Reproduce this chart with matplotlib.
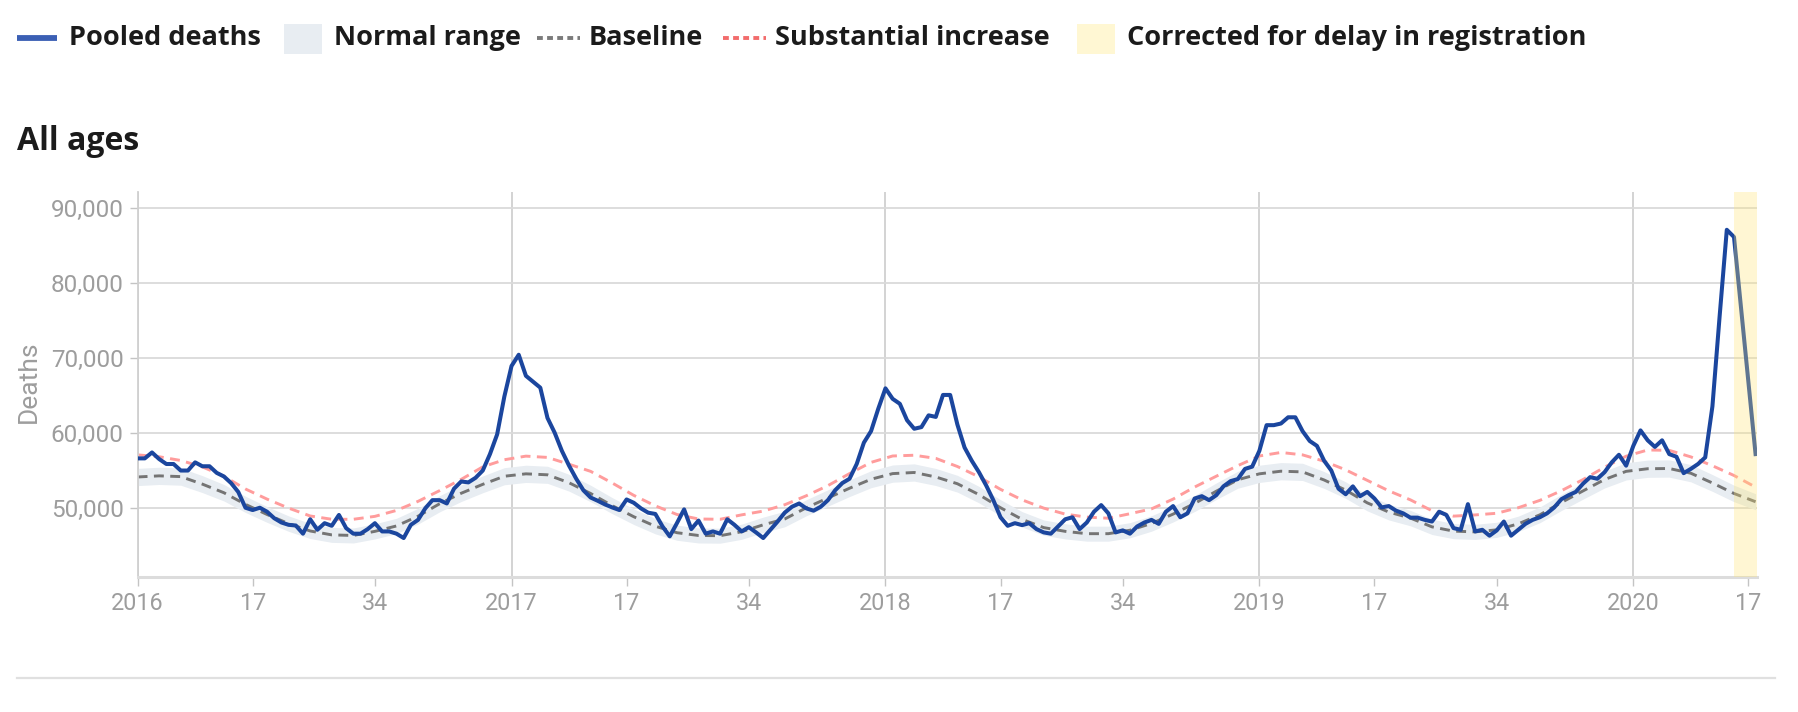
import matplotlib
matplotlib.use("Agg")
import matplotlib.pyplot as plt
from matplotlib.lines import Line2D
from matplotlib.patches import Rectangle
from matplotlib.ticker import FuncFormatter
import numpy as np

# ---------------- data ----------------
years = [2016, 2017, 2018, 2019, 2020]
weeks_per_year = [52, 52, 52, 52]          # ISO weeks 2016-2019
week_tick_labels = [17, 34]

deaths_2016 = [56580, 56580, 57370, 56490, 55830, 55830, 54960, 54960, 56050, 55530,
               55530, 54650, 54170, 53290, 52100, 50000, 49690, 50000, 49470, 48600,
               48030, 47720, 47630, 46540, 48460, 47060, 47940, 47590, 49040, 47280,
               46540, 46540, 47150, 47940, 46840, 46840, 46540, 45960, 47720, 48380,
               49910, 51010, 51010, 50570, 52540, 53500, 53380, 53990, 54960, 57150,
               59780, 64820]
deaths_2017 = [68900, 70400, 67590, 66800, 66010, 61970, 60000, 57590, 55610, 53860,
               52320, 51360, 50920, 50440, 50040, 49690, 51100, 50660, 49910, 49340,
               49170, 47500, 46180, 47940, 49780, 47150, 48290, 46540, 46840, 46540,
               48460, 47720, 46840, 47410, 46710, 45960, 47060, 48160, 49350, 50130,
               50570, 49910, 49610, 50130, 51010, 52320, 53290, 53860, 55830, 58680,
               60220, 63200]
deaths_2018 = [65920, 64520, 63860, 61670, 60530, 60750, 62320, 62110, 65040, 65040,
               61100, 58030, 56270, 54740, 52980, 51010, 48730, 47590, 47940, 47680,
               47940, 47150, 46710, 46540, 47500, 48460, 48730, 47150, 48030, 49470,
               50350, 49250, 46710, 46980, 46540, 47500, 48030, 48380, 47850, 49470,
               50220, 48730, 49250, 51230, 51540, 51010, 51670, 52850, 53550, 53820,
               55180, 55480]
deaths_2019 = [57590, 61010, 61010, 61230, 62060, 62060, 60220, 58900, 58250, 56270,
               54960, 52540, 51800, 52850, 51540, 52110, 51230, 50040, 50220, 49610,
               49250, 48680, 48680, 48380, 48160, 49470, 49040, 47280, 47060, 50480,
               46840, 47060, 46270, 46970, 48160, 46270, 47060, 47850, 48380, 48730,
               49250, 50040, 51140, 51670, 52110, 53200, 54080, 53860, 54740, 56050,
               57060, 55610]
deaths_2020 = [58250, 60310, 58990, 58110, 58990, 57150, 56800, 54610, 55180, 55830,
               56710, 63510, 75500, 87060, 86100, 76450, 66800, 57150]
corrected_from_week_2020 = 15

curve_week_step = 3   # baseline / thresholds read every 3rd week from 2016-W01
baseline = [54100, 54250, 54150, 53150, 52000, 50450, 49100, 47880, 46900, 46380,
            46300, 46850, 47570, 48870, 50530, 51930, 53120, 54200, 54520, 54390,
            53330, 51900, 50280, 48800, 47530, 46670, 46300, 46270, 46800, 47720,
            48500, 50000, 51300, 52600, 53800, 54550, 54700, 54100, 53200, 51750,
            50000, 48450, 47350, 46850, 46540, 46540, 47000, 47900, 49150, 50570,
            52200, 53730, 54520, 54870, 54780, 53700, 52350, 50650, 49420, 48620,
            47450, 46880, 46780, 47050, 47850, 49050, 50700, 52240, 53760, 54850,
            55200, 55230, 54600, 53300, 51900, 50800]
normal_low = [52950, 53100, 53000, 52020, 50900, 49370, 48050, 46850, 45890, 45380,
              45300, 45840, 46550, 47820, 49450, 50830, 52000, 53060, 53370, 53250,
              52210, 50800, 49210, 47760, 46510, 45660, 45300, 45270, 45790, 46690,
              47460, 48930, 50210, 51490, 52670, 53400, 53550, 52960, 52080, 50650,
              48930, 47420, 46330, 45840, 45540, 45540, 45990, 46870, 48100, 49500,
              51100, 52600, 53370, 53720, 53630, 52580, 51250, 49580, 48370, 47590,
              46430, 45870, 45770, 46040, 46820, 48000, 49630, 51140, 52630, 53700,
              54050, 54080, 53450, 52180, 50800, 49730]
normal_high = [55250, 55400, 55300, 54280, 53100, 51530, 50150, 48910, 47910, 47380,
               47300, 47860, 48590, 49920, 51610, 53030, 54240, 55340, 55670, 55530,
               54450, 53000, 51350, 49840, 48550, 47680, 47300, 47270, 47810, 48750,
               49540, 51070, 52390, 53710, 54930, 55700, 55850, 55240, 54320, 52850,
               51070, 49480, 48370, 47860, 47540, 47540, 48010, 48930, 50200, 51640,
               53300, 54860, 55670, 56020, 55930, 54820, 53450, 51720, 50470, 49650,
               48470, 47890, 47790, 48060, 48880, 50100, 51770, 53340, 54890, 56000,
               56350, 56380, 55750, 54420, 53000, 51870]
substantial_increase = [57050, 56800, 56300, 55450, 54200, 52500, 51150, 49950, 48900, 48460,
                        48460, 48850, 49640, 50850, 52280, 53780, 55450, 56400, 56880, 56710,
                        55800, 54850, 53300, 51650, 50250, 49100, 48500, 48460, 49050, 49550,
                        50400, 51600, 52950, 54550, 56050, 56900, 57000, 56580, 55500, 54120,
                        52450, 51050, 49950, 49150, 48750, 48600, 49200, 49850, 51150, 52760,
                        54200, 55610, 56900, 57370, 57050, 56200, 55050, 53650, 52250, 51050,
                        49600, 48880, 49040, 49260, 50000, 50980, 52270, 53750, 55400, 56870,
                        57700, 57650, 56780, 55600, 54300, 52750]

# ---------------- derived positions ----------------
pooled = np.array(deaths_2016 + deaths_2017 + deaths_2018 + deaths_2019 + deaths_2020)
x = np.arange(len(pooled))
year_start = np.concatenate([[0], np.cumsum(weeks_per_year)])
curve_x = np.arange(0, len(pooled), curve_week_step)
corrected_start = year_start[-1] + corrected_from_week_2020 - 1

W, H = 1798, 712
fig = plt.figure(figsize=(W / 100, H / 100), dpi=100)
fig.patch.set_facecolor("white")

def fx(px):
    return px / W

def fy(py):
    return 1 - py / H

left, right, top, bottom = 137.6, 1757, 192, 576.5
ax = fig.add_axes([fx(left), fy(bottom), fx(right - left), (bottom - top) / H])

TICK_COL = "#9d9d9d"
GRID_COL = "#dadada"
TEXT_COL = "#1b1b1b"
LEG_FONT = "Open Sans"

ax.fill_between(curve_x, normal_low, normal_high, color="#e8edf2", lw=0, zorder=1)
ax.plot(curve_x, baseline, color="#747474", lw=2.1, dashes=(3.4, 2.2), zorder=2)
ax.plot(curve_x, substantial_increase, color="#ff9c9c", lw=2.1, dashes=(3.4, 2.2), zorder=2)
ax.plot(x, pooled, color="#1b469e", lw=2.9, zorder=3, solid_joinstyle="round")

xmax = x[-1] + 0.2
ax.axvspan(corrected_start, xmax, color=(1.0, 0.894, 0.44), alpha=0.30, lw=0, zorder=4)

ax.set_xlim(0, xmax)
ax.set_ylim(40830, 92100)

# ticks
ax.set_xticks(year_start)
ax.set_xticklabels([str(y) for y in years])
minor_pos, minor_lab = [], []
for ys in year_start:
    for wk in week_tick_labels:
        p = ys + wk - 1
        if p <= xmax:
            minor_pos.append(p)
            minor_lab.append(str(wk))
ax.set_xticks(minor_pos, minor=True)
ax.set_xticklabels(minor_lab, minor=True)
ax.set_yticks([50000, 60000, 70000, 80000, 90000])
ax.yaxis.set_major_formatter(FuncFormatter(lambda v, p: f"{int(v):,}"))

for which in ("major", "minor"):
    ax.tick_params(axis="x", which=which, length=6.5, width=1.0, color="#c4c4c4",
                   pad=5, labelsize=16.8, labelcolor=TICK_COL)
ax.tick_params(axis="y", length=6, width=1.0, color="#c4c4c4", pad=4,
               labelsize=17.5, labelcolor=TICK_COL)
for lab in ax.get_xticklabels(minor=False) + ax.get_xticklabels(minor=True) + ax.get_yticklabels():
    lab.set_fontfamily("Roboto")

ax.grid(axis="y", color=GRID_COL, lw=1.3, zorder=0)
ax.grid(axis="x", which="major", color="#d0d0d0", lw=1.3, zorder=0)
ax.set_axisbelow(True)
for s in ("top", "right"):
    ax.spines[s].set_visible(False)
ax.spines["left"].set_color("#d0d0d0")
ax.spines["left"].set_linewidth(1.3)
ax.spines["bottom"].set_color("#dcdcdc")
ax.spines["bottom"].set_linewidth(2.2)

# y label
fig.text(fx(29), fy(382), "Deaths", rotation=90, ha="center", va="center",
         fontsize=19, color=TICK_COL, family="Roboto")

# title
fig.text(fx(17), fy(142), "All ages", ha="left", va="center", fontsize=23,
         fontweight="bold", color=TEXT_COL, family=LEG_FONT)

# legend (manual)
ly = fy(38)
LEG_FS = 19.5
fig.add_artist(Line2D([fx(17), fx(57)], [ly, ly], color="#3b5fb4", lw=4.2,
                      transform=fig.transFigure, solid_capstyle="butt"))
fig.text(fx(69), ly, "Pooled deaths", ha="left", va="center", fontsize=LEG_FS,
         fontweight="bold", color=TEXT_COL, family=LEG_FONT)
fig.add_artist(Rectangle((fx(284), fy(54)), fx(38), 30 / H, color="#e8edf2",
                         transform=fig.transFigure, lw=0))
fig.text(fx(334), ly, "Normal range", ha="left", va="center", fontsize=LEG_FS,
         fontweight="bold", color=TEXT_COL, family=LEG_FONT)
fig.add_artist(Line2D([fx(537), fx(580)], [ly, ly], color="#7a7a7a", lw=2.8,
                      dashes=(1.5, 1.1), transform=fig.transFigure))
fig.text(fx(589), ly, "Baseline", ha="left", va="center", fontsize=LEG_FS,
         fontweight="bold", color=TEXT_COL, family=LEG_FONT)
fig.add_artist(Line2D([fx(723), fx(766)], [ly, ly], color="#f26c6c", lw=2.8,
                      dashes=(1.5, 1.1), transform=fig.transFigure))
fig.text(fx(775), ly, "Substantial increase", ha="left", va="center", fontsize=LEG_FS,
         fontweight="bold", color=TEXT_COL, family=LEG_FONT)
fig.add_artist(Rectangle((fx(1077), fy(54)), fx(38), 30 / H, color="#fff7d3",
                         transform=fig.transFigure, lw=0))
fig.text(fx(1127), ly, "Corrected for delay in registration", ha="left", va="center",
         fontsize=LEG_FS, fontweight="bold", color=TEXT_COL, family=LEG_FONT)

# bottom rule
fig.add_artist(Line2D([fx(17), fx(1775)], [fy(678), fy(678)], color="#e0e0e0", lw=1.6,
                      transform=fig.transFigure))

fig.savefig("out.png", dpi=100, facecolor="white")
